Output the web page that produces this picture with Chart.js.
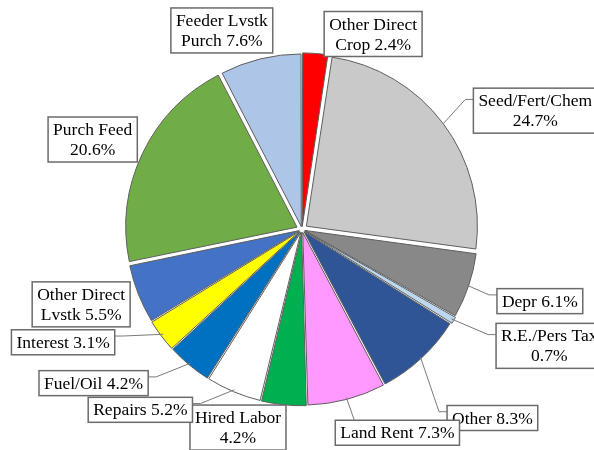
<!DOCTYPE html>
<html lang="en">
<head>
  <meta charset="UTF-8">
  <title>Cost shares</title>
  <script src="https://cdn.jsdelivr.net/npm/chart.js"></script>
  <style>
    body { margin: 0; background: #fff; }
    #wrap { width: 594px; height: 450px; position: relative; }
  </style>
</head>
<body>

<div id="wrap">
  <canvas id="pieChart"></canvas>
</div>

<script>
// data (percent of total), clockwise from 12 o'clock
const categories = [
  'Other Direct Crop', 'Seed/Fert/Chem', 'Depr', 'R.E./Pers Tax', 'Other', 'Land Rent',
  'Hired Labor', 'Repairs', 'Fuel/Oil', 'Interest', 'Other Direct Lvstk', 'Purch Feed', 'Feeder Lvstk Purch'
];
const shares = [2.4, 24.7, 6.1, 0.7, 8.3, 7.3, 4.2, 5.2, 4.2, 3.1, 5.5, 20.6, 7.6];
const sliceColors = [
  '#FF0000', '#C9C9C9', '#888888', '#BDD7EE', '#2F5597', '#FF99FF',
  '#00B050', '#FFFFFF', '#0070C0', '#FFFF00', '#4472C4', '#70AD47', '#ADC6E7'
];

// label box placement relative to the slice's outer mid point
// split = words on the first line (0 = one line), leader = draw leader line
const labelLayout = [
  { dx: 58,  dy: -22, split: 2, leader: false },
  { dx: 92,  dy: -13, split: 1, leader: true },
  { dx: 73,  dy: 16,  split: 0, leader: true },
  { dx: 98,  dy: 27,  split: 2, leader: true },
  { dx: 72,  dy: 61,  split: 0, leader: true },
  { dx: 51,  dy: 35,  split: 0, leader: true },
  { dx: -46, dy: 25,  split: 2, leader: false },
  { dx: -94, dy: 20,  split: 0, leader: true },
  { dx: -97, dy: 20,  split: 0, leader: true },
  { dx: -100, dy: 8,  split: 0, leader: true },
  { dx: -59, dy: 11,  split: 2, leader: false },
  { dx: -50, dy: -14, split: 2, leader: false },
  { dx: -39, dy: -30, split: 2, leader: false }
];

const boxLabels = {
  id: 'boxLabels',
  afterDraw(chart) {
    const ctx = chart.ctx;
    const meta = chart.getDatasetMeta(0);
    ctx.save();
    ctx.font = '17.5px "Liberation Serif", "Times New Roman", serif';
    ctx.textAlign = 'center';
    ctx.textBaseline = 'middle';
    const lineH = 20;

    meta.data.forEach((arc, i) => {
      const lay = labelLayout[i];
      const mid = (arc.startAngle + arc.endAngle) / 2;
      // chart.js shifts an arc by offset / 4
      const r = arc.outerRadius + (arc.options.offset || 0) / 4;
      const ax = arc.x + Math.cos(mid) * r;
      const ay = arc.y + Math.sin(mid) * r;

      const words = (categories[i] + ' ' + shares[i].toFixed(1) + '%').split(' ');
      const lines = lay.split ? [words.slice(0, lay.split).join(' '), words.slice(lay.split).join(' ')] : [words.join(' ')];
      const w = Math.max(...lines.map(l => ctx.measureText(l).width)) + 10;
      const h = lines.length * lineH + 5;
      const cx = ax + lay.dx, cy = ay + lay.dy;
      const left = cx - w / 2, top = cy - h / 2;

      if (lay.leader) {
        ctx.strokeStyle = '#7a7a7a';
        ctx.lineWidth = 1;
        ctx.beginPath();
        ctx.moveTo(ax, ay);
        const hy = top + h * 0.25;
        if (ax < left) {
          ctx.lineTo(left - 8, hy);
          ctx.lineTo(left, hy);
        } else if (ax > left + w) {
          ctx.lineTo(left + w + 8, hy);
          ctx.lineTo(left + w, hy);
        } else {
          ctx.lineTo(ax + 8, top);
        }
        ctx.stroke();
      }

      ctx.fillStyle = '#fff';
      ctx.fillRect(left, top, w, h);
      ctx.strokeStyle = '#6b6b6b';
      ctx.lineWidth = 1.5;
      ctx.strokeRect(left, top, w, h);

      ctx.fillStyle = '#000';
      lines.forEach((l, k) => {
        ctx.fillText(l, cx, top + 2.5 + lineH * (k + 0.5) + 1);
      });
    });
    ctx.restore();
  }
};

new Chart(document.getElementById('pieChart'), {
  type: 'pie',
  data: {
    labels: categories,
    datasets: [{
      data: shares,
      backgroundColor: sliceColors,
      borderColor: '#5e5e5e',
      borderWidth: 1,
      offset: shares.map((v, i) => (i === 1 || i === 11) ? 22 : 12),
      radius: 171
    }]
  },
  options: {
    responsive: true,
    maintainAspectRatio: false,
    animation: false,
    layout: { padding: { left: 10, right: 0, top: 9, bottom: 0 } },
    plugins: {
      legend: { display: false },
      tooltip: { enabled: false }
    }
  },
  plugins: [boxLabels]
});
</script>

</body>
</html>
